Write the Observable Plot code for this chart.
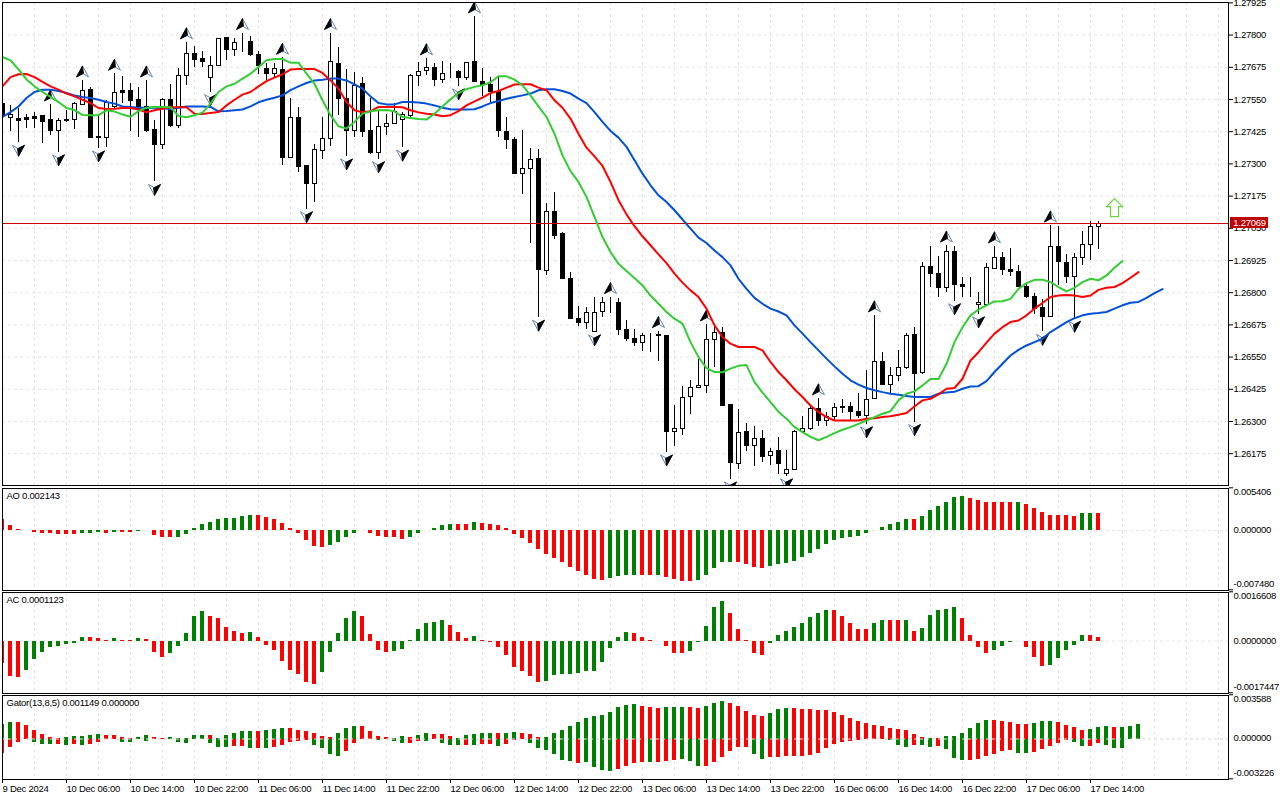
<!DOCTYPE html>
<html><head><meta charset="utf-8">
<script src="https://cdn.jsdelivr.net/npm/d3@7"></script>
<script src="https://cdn.jsdelivr.net/npm/@observablehq/plot@0.6"></script>
<style>
html,body{margin:0;padding:0;background:#fff}
#root{position:relative;width:1280px;height:800px;overflow:hidden}
</style></head><body><div id="root"></div>
<script>
// prices in units of 0.00001
const opens=[127535,127484,127477,127481,127485,127489,127473,127433,127476,127476,
127531,127590,127408,127406,127525,127586,127586,127551,127525,127434,
127379,127551,127452,127647,127729,127713,127639,127685,127791,127747,
127779,127779,127728,127671,127654,127670,127327,127481,127295,127227,
127355,127402,127691,127557,127433,127613,127430,127346,127447,127460,
127476,127489,127645,127665,127678,127631,127654,127659,127639,127698,
127623,127609,127583,127429,127398,127266,127284,127324,126888,127119,
127031,126858,126703,126687,126652,126729,126768,126765,126660,126625,
126610,126638,126641,126637,126263,126275,126399,126435,126443,126621,
126649,126369,126139,126264,126210,126237,126170,126190,126100,126115,
126262,126275,126353,126306,126321,126361,126361,126342,126326,126392,
126536,126447,126482,126511,126638,126491,126902,126875,126823,126963,
126835,126828,126756,126755,126897,126940,126893,126885,126826,126788,
126743,126709,126982,126921,126865,126940,126990,127060];
const closes=[127489,127495,127472,127476,127480,127467,127432,127472,127472,127538,
127588,127405,127406,127540,127581,127581,127548,127512,127432,127379,
127551,127450,127647,127732,127707,127700,127685,127790,127746,127775,
127779,127728,127683,127654,127671,127327,127484,127292,127226,127359,
127402,127701,127556,127433,127605,127427,127345,127449,127460,127505,
127493,127647,127662,127676,127631,127654,127654,127639,127697,127622,
127609,127583,127432,127397,127264,127286,127320,126893,127119,127025,
126857,126702,126686,126726,126726,126765,126768,126660,126623,126608,
126636,126638,126636,126263,126275,126395,126435,126443,126621,126649,
126366,126143,126260,126209,126236,126166,126187,126139,126115,126264,
126275,126353,126306,126321,126357,126356,126341,126324,126388,126536,
126444,126482,126513,126637,126488,126905,126876,126822,126963,126833,
126826,126828,126765,126901,126940,126893,126883,126826,126787,126740,
126709,126982,126923,126865,126940,126990,127060,127072];
const highs=[127551,127531,127518,127495,127504,127489,127535,127480,127512,127544,
127628,127600,127491,127551,127654,127644,127615,127600,127628,127473,
127557,127613,127674,127776,127760,127741,127722,127790,127794,127790,
127812,127799,127741,127693,127693,127716,127557,127522,127295,127379,
127486,127812,127757,127671,127658,127641,127557,127512,127496,127538,
127505,127652,127698,127714,127693,127701,127693,127667,127697,127877,
127674,127639,127639,127484,127406,127434,127363,127359,127150,127192,
127037,126884,126751,126746,126784,126784,126787,126781,126696,126660,
126647,126647,126655,126638,126366,126440,126464,126544,126681,126677,
126668,126370,126350,126297,126285,126268,126201,126242,126192,126269,
126324,126363,126394,126337,126373,126390,126376,126412,126502,126716,
126571,126515,126580,126645,126670,126920,126984,126945,126987,126984,
126862,126863,126805,126916,126984,126960,126975,126909,126839,126800,
126777,127065,127061,126953,126955,127041,127081,127081];
const lows=[127480,127428,127386,127441,127441,127385,127416,127349,127463,127438,
127529,127402,127364,127366,127518,127538,127430,127408,127424,127234,
127359,127447,127440,127609,127680,127680,127583,127684,127706,127719,
127735,127722,127652,127628,127635,127298,127323,127269,127128,127156,
127320,127372,127493,127333,127408,127408,127341,127322,127415,127458,
127367,127484,127603,127649,127605,127618,127634,127605,127626,127622,
127564,127544,127405,127358,127261,127186,126994,126707,126869,127010,
126857,126699,126673,126662,126650,126709,126725,126638,126616,126595,
126574,126570,126535,126184,126205,126251,126332,126431,126414,126515,
126364,126079,126119,126188,126130,126146,126134,126100,126091,126112,
126256,126268,126285,126285,126308,126334,126308,126315,126293,126391,
126442,126414,126461,126507,126302,126488,126824,126786,126805,126771,
126786,126787,126720,126751,126896,126871,126867,126823,126783,126720,
126652,126708,126832,126841,126703,126910,126929,126972];
const upFractals=[6,10,14,18,23,30,35,41,53,59,76,82,88,102,109,118,124,131];
const downFractals=[2,7,12,19,26,38,43,47,50,57,67,74,83,91,98,108,114,119,122,130,134];
const lips=[127719,127706,127671,127632,127605,127583,127564,127544,127521,127513,
127494,127493,127493,127512,127507,127496,127487,127509,127522,127525,
127525,127524,127490,127485,127493,127503,127538,127583,127605,127615,
127635,127654,127680,127706,127711,127711,127697,127697,127654,127615,
127551,127493,127450,127441,127467,127499,127508,127512,127513,127508,
127486,127482,127478,127476,127499,127527,127555,127579,127594,127603,
127609,127621,127644,127644,127631,127609,127570,127527,127486,127421,
127337,127276,127234,127176,127098,127020,126962,126916,126888,126861,
126832,126793,126761,126729,126703,126684,126612,126554,126511,126496,
126495,126509,126520,126523,126457,126416,126379,126341,126315,126282,
126263,126244,126231,126244,126259,126272,126282,126295,126308,126321,
126334,126344,126386,126412,126421,126444,126469,126469,126528,126612,
126670,126716,126738,126755,126770,126771,126780,126819,126841,126854,
126854,126845,126826,126809,126823,126845,126858,126852,126871,126901,126927];
const teeth=[127605,127641,127652,127653,127641,127622,127605,127592,127577,127566,
127553,127540,127521,127517,127518,127521,127521,127515,127504,127512,
127518,127524,127524,127524,127499,127498,127502,127505,127531,127553,
127573,127583,127605,127625,127639,127652,127670,127672,127672,127672,
127657,127628,127596,127544,127512,127504,127508,127525,127525,127525,
127524,127512,127504,127499,127496,127489,127493,127509,127531,127547,
127561,127579,127587,127600,127612,127613,127613,127600,127590,127551,
127522,127480,127421,127367,127333,127296,127234,127163,127108,127062,
127023,126988,126953,126919,126878,126843,126813,126787,126742,126677,
126632,126606,126593,126593,126593,126580,126535,126496,126464,126429,
126399,126366,126341,126321,126308,126308,126308,126308,126315,126317,
126321,126324,126330,126337,126362,126386,126392,126409,126431,126434,
126470,126541,126573,126610,126645,126670,126690,126696,126716,126742,
126764,126787,126793,126795,126793,126787,126793,126815,126823,126826,
126841,126862,126884];
const jaw=[127486,127505,127527,127560,127583,127592,127592,127587,127579,127570,
127564,127560,127553,127544,127538,127527,127525,127522,127522,127522,
127520,127517,127522,127527,127527,127527,127525,127508,127509,127512,
127515,127527,127543,127553,127561,127570,127590,127605,127618,127628,
127631,127635,127635,127628,127613,127596,127566,127540,127535,127535,
127544,127544,127542,127538,127531,127522,127516,127515,127515,127516,
127527,127540,127548,127557,127564,127570,127577,127590,127594,127594,
127587,127577,127557,127540,127505,127467,127432,127406,127370,127318,
127266,127221,127182,127156,127124,127088,127053,127018,126997,126968,
126942,126910,126858,126819,126784,126761,126742,126731,126716,126677,
126645,126612,126580,126548,126518,126489,126464,126447,126434,126425,
126418,126412,126408,126403,126399,126399,126399,126412,126417,126419,
126431,126440,126441,126461,126496,126528,126560,126582,126599,126612,
126625,126651,126670,126690,126705,126716,126722,126725,126729,126742,
126755,126765,126768,126784,126802,126818];
// AO in units of 0.000001
const ao=[1389,632,126,42,-210,-379,-337,-505,-505,-505,
-379,-379,-253,-379,-253,-253,-253,-84,-42,-632,
-884,-884,-884,-505,253,758,1010,1389,1516,1558,
1768,1895,1895,1642,1389,884,253,-379,-1263,-2021,
-2147,-1895,-1516,-884,-337,42,-379,-758,-884,-884,
-1137,-884,-379,42,253,632,758,758,758,1010,
884,758,632,253,-505,-1010,-1642,-2400,-3031,-3536,
-4042,-4673,-5178,-5684,-6189,-6315,-6062,-5810,-5684,-5684,
-5684,-5684,-5684,-5936,-6189,-6441,-6441,-6315,-5684,-4799,
-4042,-4042,-4042,-4294,-4673,-4799,-4547,-4294,-4168,-3915,
-3410,-2905,-2400,-1768,-1263,-1010,-884,-758,-421,-42,
379,758,1010,1389,1389,1768,2526,3031,3536,4168,
4294,4042,3789,3536,3536,3536,3536,3536,3284,2779,
2273,1895,1895,1895,1768,2147,2147,2143];
const aoColor=("rrrrrrrrrr"+"gggrgrrggr"+"rrgggggggg"+"ggrrrrrrrr"+"rgggggrrrr"+"rggggggrrg"+"rrrrrrrrrr"+"rrrrrrgggg"+"rrgrrrrggg"+"ggrrrrgggg"+"gggggggggg"+"ggggrggggg"+"grrrrrrgrr"+"rrrrrggr").split("");
// AC in units of 0.0000001
const ac=[-7418,-11802,-12139,-9779,-6070,-3709,-2023,-1686,-1012,-674,
1349,1349,1012,112,1012,337,112,1012,674,-3709,
-5395,-4046,-1686,2698,8430,10116,8430,7756,4721,3372,
2698,3035,1349,-1349,-3035,-6744,-9779,-11128,-13825,-14500,
-10453,-3709,2698,7756,10116,8430,2360,-3035,-3709,-3372,
-2698,337,4046,6070,6407,7081,5395,3035,1012,1686,
337,-562,-2023,-4721,-8767,-10116,-11802,-13825,-13488,-11465,
-11128,-11128,-10790,-10116,-10116,-7081,-2360,1349,3035,2698,
1349,112,-112,-1686,-4046,-4046,-3372,-562,5058,11465,
13488,9442,4046,112,-4046,-4721,-674,2023,3372,4721,
6070,8093,9442,10453,10453,8430,6070,4046,4046,6070,
7081,7081,7081,7081,3372,4384,8767,10453,10790,11465,
7756,2023,-2023,-4046,-3035,-1686,-562,-112,-2023,-5395,
-8430,-8093,-5732,-3035,-1349,2023,2023,1123];
const acColor=("rrrggggggg"+"grrrgrrgrr"+"rgggggrrrr"+"rgrrrrrrrr"+"gggggrrrrg"+"ggggggrrrg"+"rrrrrrrrgg"+"gggggggggr"+"rrrrrrgggg"+"grrrrrgggg"+"ggggrrrrrg"+"grrgrggggg"+"rrrrggggrr"+"rgggggrr").split("");
// Gator in units of 0.000001
const gatorUp=[1161,1323,1323,1080,675,351,108,27,108,189,
189,270,351,270,270,108,27,108,270,108,
27,108,27,27,270,270,270,27,270,432,
594,594,594,675,756,837,837,675,594,432,
189,108,432,837,999,999,594,189,108,27,
189,135,270,432,351,351,189,27,270,351,
432,432,432,432,513,432,351,108,108,432,
675,999,1323,1647,1809,1890,2133,2538,2700,2781,
2619,2538,2457,2538,2538,2538,2538,2457,2619,2862,
3024,2862,2619,2214,1890,1809,2052,2376,2457,2457,
2376,2376,2295,2295,2133,1890,1647,1404,1242,1080,
999,837,756,675,351,108,27,27,189,189,
432,837,1242,1485,1485,1404,1323,1161,1161,1242,
1404,1404,1323,1080,918,675,756,918,999,918,
918,999,1149];
const gatorDown=[-1161,-702,-297,-54,-297,-459,-459,-459,-540,-459,
-540,-459,-297,-27,-27,-297,-297,-54,-216,0,
-27,-27,-297,-378,-27,-27,-378,-702,-702,-621,
-621,-783,-783,-783,-702,-540,-297,-216,-135,-540,
-783,-1269,-1431,-1026,-378,-54,-54,-135,-54,-216,
-378,-378,-216,-216,-54,-378,-540,-540,-540,-540,
-459,-459,-621,-459,-135,-54,-378,-783,-945,-1269,
-1755,-1836,-1998,-1917,-2322,-2565,-2646,-2484,-2241,-1998,
-1917,-1917,-1917,-1836,-1755,-1674,-1836,-2241,-2241,-1917,
-1512,-1026,-702,-702,-1269,-1674,-1512,-1512,-1431,-1431,
-1431,-1350,-1188,-783,-459,-297,-216,-135,0,-27,
-54,-135,-540,-702,-540,-540,-702,-621,-864,-1593,
-1755,-1755,-1674,-1431,-1269,-1026,-945,-1188,-1188,-1107,
-864,-621,-378,-135,-297,-621,-621,-378,-540,-783,
-783,-54,0];
const gatorUpColor=("ggrrrrrrgg"+"gggrrrrggr"+"rgggggrggg"+"ggrgggrrrr"+"rrgggrrrrg"+"grggrrrggg"+"ggrggrrrgg"+"gggggggggg"+"rrrgggrrgg"+"grrrrrgggr"+"rrrrrrrrrr"+"rrrrrrgrgg"+"ggggrrrrrg"+"ggrrrrgggr"+"ggg").split("");
const gatorDownColor=("rrrrgggrgr"+"grrrrggrgr"+"rggggggggr"+"rgrgrrrrrg"+"gggrrrggrg"+"grrgrgggrg"+"rrgrrrgggg"+"ggrggggrrr"+"rgrrrgggrr"+"rrrrggrrrr"+"rrrrrrrrrr"+"ggggrggrgg"+"grrrrrrggr"+"rrrrggrrgg"+"grr").split("");
const priceTicks=[1.27925,1.278,1.27675,1.2755,1.27425,1.273,1.27175,1.2705,1.26925,1.268,1.26675,1.2655,1.26425,1.263,1.26175];
const timeLabels=["9 Dec 2024","10 Dec 06:00","10 Dec 14:00","10 Dec 22:00","11 Dec 06:00","11 Dec 14:00","11 Dec 22:00","12 Dec 06:00","12 Dec 14:00","12 Dec 22:00","13 Dec 06:00","13 Dec 14:00","13 Dec 22:00","16 Dec 06:00","16 Dec 14:00","16 Dec 22:00","17 Dec 06:00","17 Dec 14:00"];
const lastPrice=1.27069, signalBar=139, signalPrice=1.2713;
const readingOffset=-4;

const GRID="#e4e4e4", GREEN="#008000", RED="#ff0000", FONT="'Liberation Sans',Arial,sans-serif";
const colorOf=c=>c==="g"?GREEN:RED;
const xDomain=[0,153.25];
const style={fontFamily:FONT,fontSize:"9.5px",letterSpacing:"-0.25px",color:"#000",background:"transparent",overflow:"visible"};
const vGrid=Plot.ruleX(d3.range(0,153,4),{stroke:GRID,strokeDasharray:"3,3"});
const hyphen=f=>v=>f(v).replace("\u2212","-");
const px=v=>(v+readingOffset)/1e5;

const candles=opens.map((o,i)=>({i,o:px(o),c:px(closes[i]),h:px(highs[i]),l:px(lows[i])}));
const rect=(data,fill)=>Plot.rect(data,{x1:d=>d.i-0.1875,x2:d=>d.i+0.3125,y1:"o",y2:"c",fill,stroke:"#000",shapeRendering:"crispEdges",clip:true});
const arrowUpWhole={draw(c){c.moveTo(0,-5.5);c.lineTo(6,5.5);c.lineTo(0,2);c.lineTo(-6,5.5);c.closePath();}};
const arrowUpHalf={draw(c){c.moveTo(0,-5.5);c.lineTo(1,2);c.lineTo(-6,5.5);c.closePath();}};
const arrowDownWhole={draw(c){c.moveTo(0,5.5);c.lineTo(-6,-5.5);c.lineTo(0,-2);c.lineTo(6,-5.5);c.closePath();}};
const arrowDownHalf={draw(c){c.moveTo(0,5.5);c.lineTo(-1,-2);c.lineTo(6,-5.5);c.closePath();}};
const signalArrow={draw(c){c.moveTo(0,-9);c.lineTo(8,-1);c.lineTo(4,-1);c.lineTo(4,9);c.lineTo(-4,9);c.lineTo(-4,-1);c.lineTo(-8,-1);c.closePath();}};
const ups=upFractals.map(i=>({i,y:px(highs[i])})), downs=downFractals.map(i=>({i,y:px(lows[i])}));
const line=(vals,stroke)=>Plot.line(vals.map((v,i)=>({i,y:px(v)})),{x:"i",y:"y",stroke,strokeWidth:2,clip:true,strokeLinejoin:"bevel"});

const main=Plot.plot({width:1280,height:486,marginTop:2,marginBottom:1,marginLeft:2,marginRight:52,style,
 x:{domain:xDomain,axis:null},y:{domain:[1.260515,1.279265],axis:null},
 marks:[
  vGrid,
  Plot.ruleY(priceTicks,{stroke:GRID,strokeDasharray:"3,3"}),
  Plot.ruleX(candles,{x:"i",y1:"l",y2:"h",stroke:"#000",clip:true,shapeRendering:"crispEdges"}),
  rect(candles.filter(d=>d.c<d.o),"#000"),
  rect(candles.filter(d=>d.c>=d.o),"#fff"),
  Plot.ruleY([lastPrice],{stroke:"#cc0000",shapeRendering:"crispEdges"}),
  Plot.dot(ups,{x:"i",y:"y",dy:-9,symbol:arrowUpWhole,fill:"#fff",stroke:"#5f86b8",strokeWidth:1,clip:true}),
  Plot.dot(ups,{x:"i",y:"y",dy:-9,symbol:arrowUpHalf,fill:"#000",stroke:"#000",strokeWidth:0.8,clip:true}),
  Plot.dot(downs,{x:"i",y:"y",dy:8,symbol:arrowDownWhole,fill:"#fff",stroke:"#5f86b8",strokeWidth:1,clip:true}),
  Plot.dot(downs,{x:"i",y:"y",dy:8,symbol:arrowDownHalf,fill:"#000",stroke:"#000",strokeWidth:0.8,clip:true}),
  line(jaw,"#0050d8"),
  line(teeth,"#ff0000"),
  line(lips,"#32cd32"),
  Plot.dot([{i:signalBar,y:signalPrice}],{x:"i",y:"y",symbol:signalArrow,fill:"#fff",stroke:"#62d83c",strokeWidth:1.2}),
  Plot.frame({stroke:"#000",shapeRendering:"crispEdges"}),
  Plot.axisY(priceTicks,{anchor:"right",tickSize:4,tickPadding:1,tickFormat:d3.format(".5f"),label:null}),
  Plot.rect([{}],{x1:153.5,x2:158.25,y1:lastPrice-0.00021,y2:lastPrice+0.00021,fill:"#c00000",shapeRendering:"crispEdges"}),
  Plot.text([lastPrice],{x:153.85,y:d=>d,text:d=>d.toFixed(5),textAnchor:"start",fill:"#fff"})
 ]});

function bars(vals,colors,scale){return Plot.ruleX(vals.map((v,i)=>({i,v:v*scale,c:colorOf(colors[i])})),{x:"i",y1:0,y2:"v",stroke:"c",strokeWidth:4,dx:-0.5,clip:true,shapeRendering:"crispEdges"});}
function sidePanel(h,mt,mb,dom,label,fmt,barMarks,extra){
 return Plot.plot({width:1280,height:h,marginTop:mt,marginBottom:mb,marginLeft:2,marginRight:52,style,
  x:{domain:xDomain,axis:null},y:{domain:dom,axis:null,range:[h-mb-0.7,mt-0.7]},color:{type:"identity"},
  marks:[
   vGrid,
   Plot.ruleY([0],{stroke:GRID,strokeDasharray:"3,3"}),
   ...barMarks,
   ...(extra||[]),
   Plot.frame({stroke:"#000",shapeRendering:"crispEdges"}),
   Plot.axisY([dom[1],dom[0]],{anchor:"right",tickSize:4,tickFormat:()=>"",label:null}),
   Plot.axisY([dom[1]],{anchor:"right",tickSize:0,tickPadding:5,dy:4.2,tickFormat:fmt,label:null}),
   Plot.axisY([0],{anchor:"right",tickSize:0,tickPadding:5,dy:-0.6,tickFormat:fmt,label:null}),
   Plot.axisY([dom[0]],{anchor:"right",tickSize:0,tickPadding:5,dy:-5.6,tickFormat:fmt,label:null}),
   Plot.text([label],{frameAnchor:"top-left",dx:4,dy:4,text:d=>d,textAnchor:"start"}),
   ...(h>105?[Plot.axisX(d3.range(0,137,8),{anchor:"bottom",tickSize:4,tickPadding:2,textAnchor:"start",tickFormat:i=>timeLabels[i/8],label:null,dx:0})]:[])
  ]});
}
const aoPlot=sidePanel(104,1,1,[-0.00748,0.005406],"AO 0.002143",hyphen(d3.format(".6f")),[bars(ao,aoColor,1e-6)]);
const acPlot=sidePanel(103,1,1,[-0.0017447,0.0016608],"AC 0.0001123",hyphen(d3.format(".7f")),[bars(ac,acColor,1e-7)]);
const gatorPlot=sidePanel(106,1,21,[-0.003226,0.003588],"Gator(13,8,5) 0.001149 0.000000",hyphen(d3.format(".6f")),
 [bars(gatorUp,gatorUpColor,1e-6),bars(gatorDown,gatorDownColor,1e-6)],
 [Plot.ruleY([0],{stroke:GRID,strokeDasharray:"3,3"})]);

const root=document.getElementById("root");
[[main,0],[aoPlot,487],[acPlot,591],[gatorPlot,694]].forEach(([p,t])=>{p.style.position="absolute";p.style.left="0";p.style.top=t+"px";root.appendChild(p);});
</script></body></html>
